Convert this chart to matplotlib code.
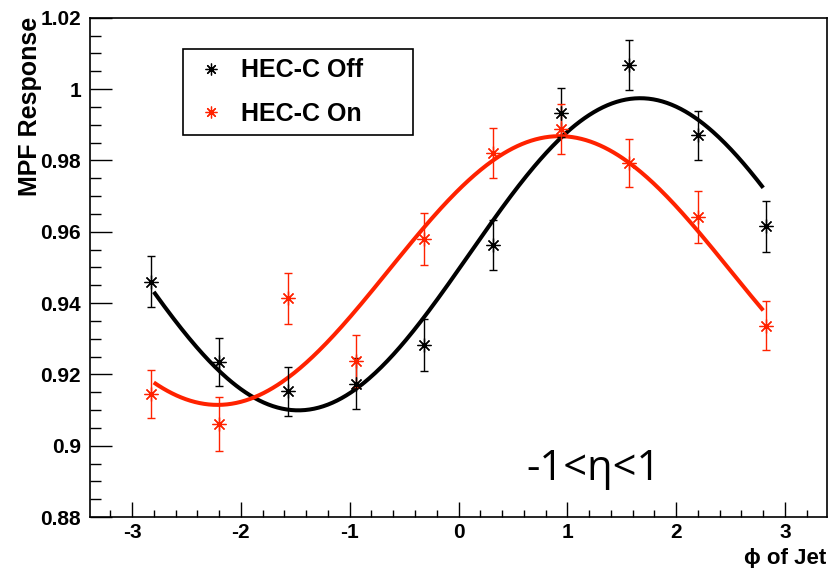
import numpy as np
import matplotlib
matplotlib.use("Agg")
import matplotlib.pyplot as plt
from matplotlib.lines import Line2D
from matplotlib.font_manager import FontProperties

# ---------------- data ----------------
phi_centers = [-2.827, -2.199, -1.571, -0.942, -0.314, 0.314, 0.942, 1.571, 2.199, 2.827]

off_values = [0.9460, 0.9235, 0.9152, 0.9174, 0.9282, 0.9563, 0.9934, 1.0067, 0.9870, 0.9615]
off_errors = [0.0072, 0.0067, 0.0069, 0.0072, 0.0072, 0.0071, 0.0069, 0.0070, 0.0069, 0.0072]

on_values = [0.9145, 0.9061, 0.9413, 0.9237, 0.9579, 0.9820, 0.9889, 0.9793, 0.9640, 0.9336]
on_errors = [0.0068, 0.0075, 0.0072, 0.0072, 0.0072, 0.0070, 0.0070, 0.0068, 0.0073, 0.0069]

fit_range = [-2.8, 2.8]

x_ticks = [-3, -2, -1, 0, 1, 2, 3]
x_tick_labels = ["-3", "-2", "-1", "0", "1", "2", "3"]
y_ticks = [0.88, 0.90, 0.92, 0.94, 0.96, 0.98, 1.00, 1.02]
y_tick_labels = ["0.88", "0.9", "0.92", "0.94", "0.96", "0.98", "1", "1.02"]

series_labels = ["HEC-C Off", "HEC-C On"]
region_text = "-1<η<1"

# ---------------- style ----------------
RED = "#ff2200"
BLACK = "#000000"
ASTER = (8, 2, 0)
bold = FontProperties(family=["Liberation Sans", "DejaVu Sans"], weight="bold", size=15)


def sine_fit(x, y, e):
    x = np.asarray(x); y = np.asarray(y); w = 1.0 / np.asarray(e)
    A = np.column_stack([np.ones_like(x), np.cos(x), np.sin(x)])
    coef, *_ = np.linalg.lstsq(A * w[:, None], y * w, rcond=None)
    return coef


fig = plt.figure(figsize=(8.38, 5.68), dpi=100)
ax = fig.add_axes([90 / 838, 1 - 517 / 568, 737 / 838, 499.3 / 568])

for vals, errs, col in [(off_values, off_errors, BLACK), (on_values, on_errors, RED)]:
    ax.errorbar(phi_centers, vals, yerr=errs, fmt="none", ecolor=col,
                elinewidth=1.0, capsize=3.2, capthick=1.0, zorder=3)
    ax.plot(phi_centers, vals, ls="none", marker=ASTER, ms=10.0, mew=0.9,
            color=col, zorder=4)

xx = np.linspace(fit_range[0], fit_range[1], 400)
for vals, errs, col in [(off_values, off_errors, BLACK), (on_values, on_errors, RED)]:
    a, b, c = sine_fit(phi_centers, vals, errs)
    ax.plot(xx, a + b * np.cos(xx) + c * np.sin(xx), color=col, lw=2.9,
            solid_capstyle="butt", zorder=2)

ax.set_xlim(-3.386, 3.386)
ax.set_ylim(0.88, 1.02)

ax.set_xticks(x_ticks)
ax.set_xticklabels(x_tick_labels, fontproperties=bold)
ax.set_yticks(y_ticks)
ax.set_yticklabels(y_tick_labels, fontproperties=bold)
ax.set_xticks(np.arange(-3.2, 3.3, 0.2), minor=True)
ax.set_yticks(np.arange(0.88, 1.0201, 0.005), minor=True)

ax.tick_params(axis="both", which="both", direction="in", top=False, right=False,
               color="black", width=1.0)
ax.tick_params(axis="y", which="major", length=15.8, pad=6.5)
ax.tick_params(axis="y", which="minor", length=7.9)
ax.tick_params(axis="x", which="major", length=10.8, pad=4.5)
ax.tick_params(axis="x", which="minor", length=5.3)
for s in ax.spines.values():
    s.set_linewidth(1.2)

fig.text(30 / 838, 1 - 17 / 568, "MPF Response", rotation=90, ha="center", va="top",
         fontproperties=FontProperties(family=["Liberation Sans", "DejaVu Sans"],
                                       weight="bold", size=18))
fig.text(826 / 838, 1 - 564 / 568, "ϕ of Jet", ha="right", va="baseline",
         fontproperties=FontProperties(family=["Liberation Sans", "DejaVu Sans"],
                                       weight="bold", size=16))

ax.text((594 - 90) / 737, (517 - 480) / 499.3, region_text, transform=ax.transAxes,
        ha="center", va="baseline", family=["Open Sans", "DejaVu Sans"], fontsize=30)

handles = [Line2D([], [], ls="none", marker=ASTER, ms=8.5, mew=0.9, color=BLACK),
           Line2D([], [], ls="none", marker=ASTER, ms=8.5, mew=0.9, color=RED)]
leg = ax.legend(handles, series_labels, loc="upper left",
                bbox_to_anchor=(0.1262, 0.749, 0.3121, 0.1883), mode="expand",
                borderaxespad=0, borderpad=0.37, handlelength=1.53, handletextpad=0.4,
                labelspacing=0.77, frameon=True, fancybox=False, edgecolor="black",
                framealpha=1,
                prop=FontProperties(family=["Liberation Sans", "DejaVu Sans"],
                                    weight="bold", size=18))
leg.get_frame().set_linewidth(1.2)

fig.savefig("out.png", dpi=100)
